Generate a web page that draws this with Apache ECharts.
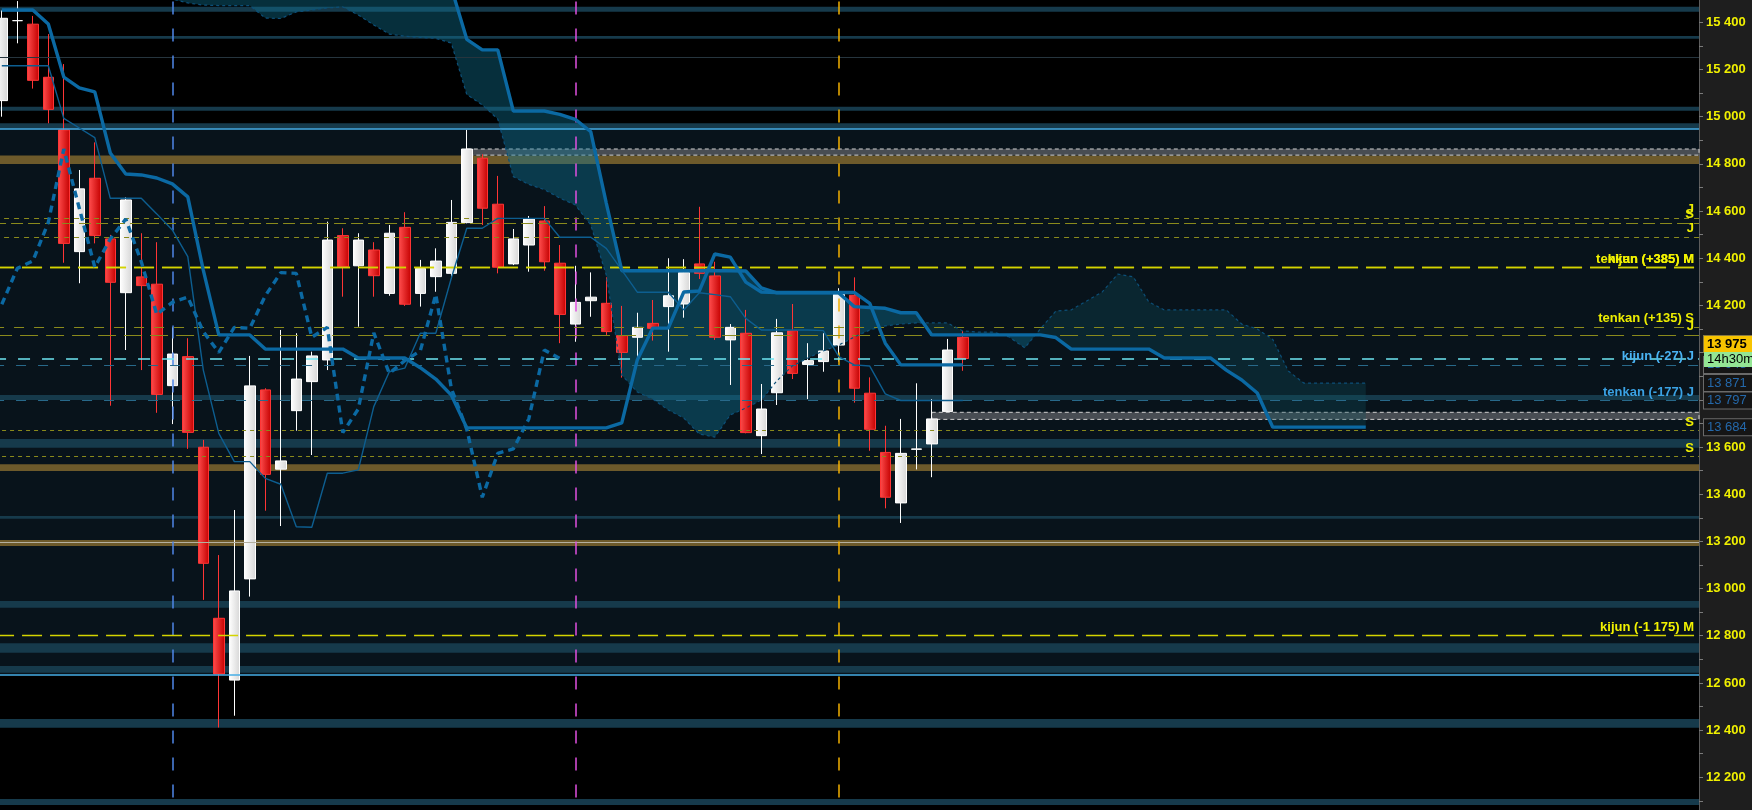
<!DOCTYPE html>
<html><head><meta charset="utf-8">
<script src="https://cdn.jsdelivr.net/npm/echarts@6/dist/echarts.min.js"></script>
<style>html,body{margin:0;padding:0;background:#1e1e1e;overflow:hidden}#c{width:1752px;height:810px}</style>
</head><body><div id="c"></div>
<script>
// ---------- DATA ----------
const opens  = [15068,15407,15392,15167,14944,14428,14739,14482,14254,14321,14290,13860,13983,13599,12874,12612,13041,13842,13506,13754,13877,13969,14496,14368,14435,14251,14531,14251,14322,14336,14551,14824,14629,14376,14456,14558,14379,14121,14220,14209,14072,14065,14124,14195,14206,14376,14325,14054,14082,13648,13830,14093,13950,13962,14032,14243,13828,13577,13363,13590,13613,13750,14065];
const closes = [15417,15407,15154,15031,14463,14694,14496,14298,14647,14284,13823,13994,13662,13107,12638,12990,13859,13484,13541,13888,13986,14477,14364,14477,14326,14506,14205,14357,14388,14552,14863,14612,14362,14482,14566,14385,14162,14213,14235,14089,14001,14107,14103,14241,14339,14336,14065,14107,13661,13761,14084,13912,13966,14007,14247,13849,13675,13387,13573,13592,13719,14011,13975];
const lows   = [15000,15311,15119,14972,14381,14294,14463,13775,14011,13926,13745,13697,13592,12952,12411,12461,12966,13330,13265,13669,13566,13926,14237,14110,14237,14241,14198,14195,14258,14315,14548,14541,14336,14371,14343,14347,14040,14046,14152,14075,13894,13969,14051,14004,14148,14312,14054,13863,13658,13570,13778,13888,13803,13919,13962,13788,13584,13340,13278,13505,13472,13748,13923];
const highs  = [15450,15490,15427,15350,15223,14774,14891,14499,14658,14506,14468,14107,14061,13630,13142,13333,13986,13849,14096,14082,14004,14555,14527,14506,14468,14541,14595,14393,14442,14647,14944,14841,14749,14524,14579,14621,14456,14368,14340,14319,14198,14169,14223,14400,14396,14618,14385,14121,14181,13867,14143,14206,14040,14082,14273,14319,13895,13690,13719,13870,13803,14058,14092];

const tenkan = [15216,15216,15216,15216,14993,14952,14911,14654,14654,14654,14588,14520,14407,13926,13658,13538,13538,13467,13442,13262,13260,13489,13489,13503,13771,13919,13934,14082,14082,14315,14527,14527,14569,14569,14569,14569,14489,14489,14489,14442,14350,14256,14256,14256,14181,14254,14246,14237,14145,14096,14096,14096,14096,14093,13983,13948,13943,13825,13797,13797,13797,13797,13797];
const kijun  = [15452,15452,15452,15393,15168,15122,15105,14846,14757,14753,14740,14715,14660,14350,14075,14075,14075,14015,14015,14015,14015,14015,14015,13977,13977,13977,13977,13936,13888,13820,13681,13681,13681,13681,13681,13681,13681,13681,13681,13681,13702,13969,14104,14104,14257,14261,14418,14405,14299,14257,14255,14255,14255,14255,14255,14255,14209,14040,13948,13948,13948,13948,13948];
const senkouA = [15600,15600,15600,15600,15600,15600,15600,15600,15600,15600,15600,
  15499,15482,15473,15471,15471,15471,15418,15416,15444,15452,15461,15465,15431,15389,15350,15341,15336,15332,15312,
  15094,15050,14990,14746,14713,14691,14655,14626,14541,14329,13905,13833,13803,13757,13723,13655,13642,13736,13765,13799,
  13880,13943,13977,14007,14032,14066,14096,14113,14121,14126,14126,14126,14092,14087,14087,14066,14020,14100,14176,14181,
  14219,14257,14333,14321,14215,14181,14181,14181,14181,14181,14121,14100,14056,13922,13871,13871,13871,13871,13871];
const senkouB = [15650,15650,15650,15650,15650,15650,15650,15650,15650,15650,15650,15650,15650,15650,15650,15650,15650,15650,15650,15650,15650,15650,15650,15650,15650,15650,15650,15650,15650,
  15547,15328,15283,15283,15024,15024,15024,15010,14989,14936,14634,
  14347,14347,14347,14347,14347,14347,14347,14347,14346,14274,
  14253,14253,14253,14253,14253,14195,14191,14188,14169,14169,
  14075,14075,14075,14075,14075,14075,14075,14075,14064,
  14015,14015,14015,14015,14015,14015,13977,13977,13977,13977,13926,13884,13829,
  13684,13684,13684,13684,13684,13684,13684];
const chikou = closes.slice(26); // close plotted 26 periods back

const tealBands = [[15445,15466],[15330,15342],[15025,15042],[14949,14972],[13799,13820],[13597,13634],[13296,13307],[12919,12947],[12728,12768],[12643,12672],[12410,12447],[12083,12108]];
const goldBands = [[14799,14835],[13498,13527],[13180,13206]];
const goldMidLine = 13196;
const grayZones = [[30,14837,14863],[60,13717,13747]];   // [start candle, low, high]
const navyZone = [12636,14948];
const blueEdgeLines = [14948,12636];
const thinLine = 15253;
const verticalMarks = [11,37,54];

const oliveLevels = [14569,14549,14489,14107,14073,13670,13560];
const oliveTexts  = ['J','S','J','tenkan (+135) S','J','S','S'];
const yellowLevels = [14360,14360,12800];
const yellowTexts  = ['tenkan (+385) M','kijun (+385) M','kijun (-1 175) M'];
const lastPrice = 13975, lastKijun = 13948, lastTenkan = 13797, lastSpanA = 13871, lastSpanB = 13684;
const timerText = '14h30m';
const blueLevels = [lastKijun, lastTenkan];
const blueTexts = ['kijun (-27) J','tenkan (-177) J'];

// ---------- STYLES ----------
const FONT = 'Liberation Sans, Arial, sans-serif';
const N_CAT = 110;
const cats = Array.from({length: N_CAT}, (_, i) => String(i));
const oliveDash = [[5,5],[12,5],[5,5],[10,10],[18,8],[4,4],[4,4]];
const BEAR_FILL = 'rgba(14,118,150,0.40)';
const BULL_FILL = 'rgba(16,80,92,0.32)';
const LINE_BLUE = '#0b69a3';
const fmt = v => String(v).replace(/\B(?=(\d{3})+(?!\d))/g, ' ');

const chart = echarts.init(document.getElementById('c'), null, {renderer: 'canvas'});

const redGrad = new echarts.graphic.LinearGradient(0,0,1,0,[{offset:0,color:'#ff4d4d'},{offset:1,color:'#c40000'}]);
const whiteGrad = new echarts.graphic.LinearGradient(0,0,1,0,[{offset:0,color:'#ffffff'},{offset:1,color:'#d6d6d6'}]);

function cloudRender(params, api) {
  if (params.dataIndex !== 0) return;
  const n = senkouA.length;
  const pa = senkouA.map((v, i) => api.coord([i, v]));
  const pb = senkouB.map((v, i) => api.coord([i, v]));
  const d = senkouA.map((v, i) => senkouB[i] - v);
  const children = [];
  const poly = (u, l, s) => ({type: 'polygon', shape: {points: u.concat(l.slice().reverse())}, style: {fill: s ? BEAR_FILL : BULL_FILL}});
  let up = [pa[0]], lo = [pb[0]], sign = d[0] > 0;
  for (let i = 0; i < n - 1; i++) {
    const s1 = d[i + 1] > 0;
    if (d[i] !== 0 && d[i + 1] !== 0 && (d[i] > 0) !== s1) {
      const t = d[i] / (d[i] - d[i + 1]);
      const p = [pa[i][0] + t * (pa[i + 1][0] - pa[i][0]), pa[i][1] + t * (pa[i + 1][1] - pa[i][1])];
      up.push(p); lo.push(p);
      children.push(poly(up, lo, sign));
      up = [p]; lo = [p]; sign = s1;
    }
    up.push(pa[i + 1]); lo.push(pb[i + 1]);
  }
  children.push(poly(up, lo, sign));
  return {type: 'group', children};
}

const lblBase = {show: true, position: 'insideEndTop', fontWeight: 'bold', fontSize: 13, fontFamily: FONT, distance: [5, 2]};

const levelLineData = [];
oliveLevels.forEach((v, k) => levelLineData.push({
  yAxis: v, lineStyle: {color: '#8a8a1c', width: 1, type: oliveDash[k]},
  label: Object.assign({}, lblBase, {formatter: oliveTexts[k], color: '#eded00'})
}));
yellowLevels.forEach((v, k) => levelLineData.push({
  yAxis: v, lineStyle: {color: '#d4d400', width: 1.3, type: [20, 8]},
  label: Object.assign({}, lblBase, {formatter: yellowTexts[k], color: '#f2f200'})
}));
levelLineData.push({yAxis: lastPrice, lineStyle: {color: '#6ee6f2', width: 1.5, type: [12, 12]}, label: {show: false}});
blueLevels.forEach((v, k) => levelLineData.push({
  yAxis: v, lineStyle: {color: '#28698a', width: 1.2, type: [10, 12]},
  label: Object.assign({}, lblBase, {formatter: blueTexts[k], color: k === 0 ? '#4ab4f4' : '#3aa2e4'})
}));

const darkBox = {show: true, position: 'end', distance: 5, color: '#2468aa', opacity: 1, fontSize: 13, fontFamily: FONT,
  backgroundColor: '#151515', borderColor: '#6a6a6a', borderWidth: 1, padding: [2, 14, 1, 3]};
const boxData = [
  {yAxis: lastKijun, label: Object.assign({}, darkBox, {formatter: fmt(lastKijun)})},
  {yAxis: lastSpanA, label: Object.assign({}, darkBox, {formatter: fmt(lastSpanA)})},
  {yAxis: lastTenkan, label: Object.assign({}, darkBox, {formatter: fmt(lastTenkan)})},
  {yAxis: lastSpanB, label: Object.assign({}, darkBox, {formatter: fmt(lastSpanB)})},
  {yAxis: lastPrice, label: {show: true, position: 'end', distance: 5, offset: [0, -7], opacity: 1,
    formatter: '{p|' + fmt(lastPrice) + '}\n{t|' + timerText + '}',
    rich: {
      p: {backgroundColor: '#f8c400', color: '#000', fontWeight: 'bold', fontSize: 13, fontFamily: FONT, width: 46, padding: [2, 4, 1, 3], borderColor: '#8a7a40', borderWidth: 1},
      t: {backgroundColor: '#94e694', color: '#000', fontSize: 13, fontFamily: FONT, width: 46, padding: [1, 4, 1, 3]}
    }}}
];

const bgAreas = [[{yAxis: navyZone[0], itemStyle: {color: '#08131b'}}, {yAxis: navyZone[1]}]];
tealBands.forEach(b => bgAreas.push([{yAxis: b[0], itemStyle: {color: '#163a4b'}}, {yAxis: b[1]}]));
goldBands.forEach(b => bgAreas.push([{yAxis: b[0], itemStyle: {color: '#6d5a2b'}}, {yAxis: b[1]}]));

const bgLines = [];
blueEdgeLines.forEach(v => bgLines.push({yAxis: v, lineStyle: {color: '#46aee6', width: 1.5, type: 'solid'}}));
bgLines.push({yAxis: thinLine, lineStyle: {color: '#26353e', width: 1, type: 'solid'}});
bgLines.push({yAxis: goldMidLine, lineStyle: {color: '#b4b0a0', width: 1, type: 'solid'}});
const vColors = ['#4f86e8', '#e050e0', '#f2b000'];
verticalMarks.forEach((x, k) => bgLines.push({xAxis: x, lineStyle: {color: vColors[k], width: 1.5, type: [13, 14]}}));

const grayAreas = grayZones.map(z => [{xAxis: z[0], yAxis: z[2]}, {yAxis: z[1]}]);

const option = {
  animation: false,
  backgroundColor: '#1e1e1e',
  grid: {left: -5.95, right: 53, top: -24.89, bottom: -14.5, show: true, backgroundColor: '#000', borderWidth: 0,
    containLabel: false, outerBoundsMode: 'none'},
  xAxis: {type: 'category', data: cats, boundaryGap: true, show: false},
  yAxis: {
    type: 'value', position: 'right', min: 12000, max: 15600, interval: 100,
    axisLine: {show: true, lineStyle: {color: '#5c5c5c', width: 1}},
    axisTick: {show: true, length: 4, lineStyle: {color: '#7a7a7a'}},
    splitLine: {show: false},
    axisLabel: {color: '#f0f000', fontWeight: 'bold', fontSize: 13, fontFamily: FONT, margin: 7,
      formatter: v => (v % 200 === 0 ? fmt(v) : '')}
  },
  series: [
    {name: 'bg', type: 'line', data: [], z: 1, silent: true,
      markArea: {silent: true, data: bgAreas},
      markLine: {silent: true, symbol: ['none', 'none'], label: {show: false}, data: bgLines}},
    {name: 'cloud', type: 'custom', z: 2, silent: true, clip: true, data: [[0, 0]], encode: {x: 0, y: 1}, renderItem: cloudRender},
    {name: 'zones', type: 'line', data: [], z: 3, silent: true,
      markArea: {silent: true, itemStyle: {color: '#484d53', borderColor: '#d0d0d0', borderWidth: 1, borderType: [4, 3]}, data: grayAreas},
      markLine: {silent: true, symbol: ['none', 'none'], data: levelLineData}},
    {name: 'price', type: 'candlestick', z: 4, barWidth: 11, clip: true,
      data: opens.map((o, i) => [o, closes[i], lows[i], highs[i]]),
      itemStyle: {color: whiteGrad, color0: redGrad, borderColor: '#ffffff', borderColor0: '#ff3535', borderColorDoji: '#ffffff', borderWidth: 1}},
    {name: 'senkouA', type: 'line', z: 5, data: senkouA, symbol: 'none', clip: true, silent: true,
      lineStyle: {color: '#0c4f78', width: 1.2, type: [3, 3]}},
    {name: 'senkouB', type: 'line', z: 5, data: senkouB, symbol: 'none', clip: true, silent: true,
      lineStyle: {color: LINE_BLUE, width: 3.4}},
    {name: 'tenkan', type: 'line', z: 6, data: tenkan, symbol: 'none', clip: true, silent: true,
      lineStyle: {color: '#0d5e90', width: 1.4}},
    {name: 'kijun', type: 'line', z: 6, data: kijun, symbol: 'none', clip: true, silent: true,
      lineStyle: {color: LINE_BLUE, width: 3.4}},
    {name: 'chikou', type: 'line', z: 6, data: chikou, symbol: 'none', clip: true, silent: true,
      lineStyle: {color: LINE_BLUE, width: 3.4, type: [7, 5]}},
    {name: 'boxes', type: 'line', data: [], z: 10, silent: true,
      markLine: {silent: true, symbol: ['none', 'none'], lineStyle: {color: 'rgba(0,0,0,0)', width: 0}, data: boxData}}
  ]
};
chart.setOption(option);
</script>
</body></html>
